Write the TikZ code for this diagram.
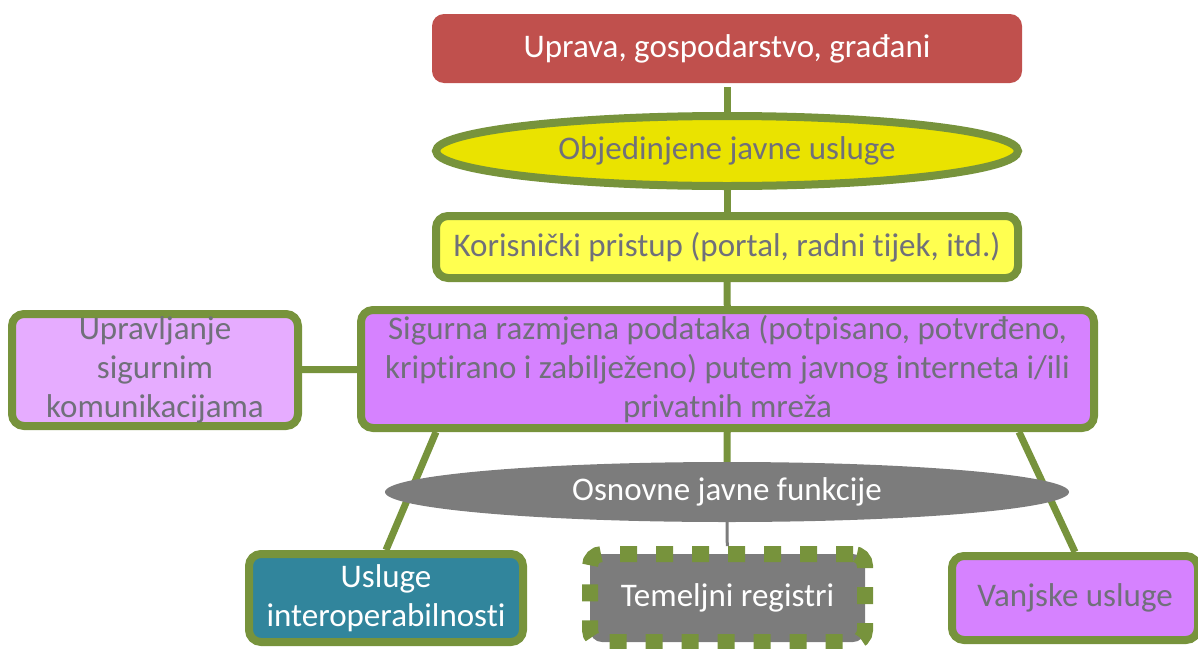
\documentclass[tikz,border=0pt]{standalone}
\usepackage{fontspec}
\setmainfont{Carlito}[Ligatures=NoCommon]
\usetikzlibrary{positioning, calc, backgrounds, shapes.geometric}
\definecolor{gline}{RGB}{119,147,60}
\definecolor{rfill}{RGB}{192,80,77}
\definecolor{yoval}{RGB}{234,227,0}
\definecolor{yfill}{RGB}{255,255,80}
\definecolor{pfill}{RGB}{214,130,255}
\definecolor{lpfill}{RGB}{230,172,255}
\definecolor{tfill}{RGB}{49,133,156}
\definecolor{gfill}{RGB}{124,124,124}
\definecolor{tgray}{RGB}{112,112,122}

\begin{document}
\begin{tikzpicture}[
  x=1pt, y=-1pt,
  font=\fontsize{33}{39}\selectfont,
  box/.style={draw=gline, line width=8pt, rounded corners=12pt, align=center,
              inner sep=0pt, text=tgray},
  oval/.style={ellipse, align=center, inner sep=0pt},
  conn/.style={gline, line width=7pt},
]
\useasboundingbox (0,0) rectangle (1198,648);

\node[box, draw=none, fill=rfill, text=white, minimum width=590pt, minimum height=69pt] (upr) at (727,48.5) {Uprava, gospodarstvo, građani};
\node[oval, draw=gline, line width=8pt, fill=yoval, text=tgray, minimum width=582pt, minimum height=70pt] (obj) at (727,151) {Objedinjene javne usluge};
\node[box, fill=yfill, minimum width=582pt, minimum height=62pt] (kor) at (727,247) {Korisnički pristup (portal, radni tijek, itd.)};
\node[box, fill=pfill, minimum width=733pt, minimum height=118pt] (sig) at (727.5,369) {Sigurna razmjena podataka (potpisano, potvrđeno,\\kriptirano i zabilježeno) putem javnog interneta i/ili\\privatnih mreža};
\node[box, fill=lpfill, minimum width=286pt, minimum height=112pt] (ups) at (155,370) {Upravljanje\\sigurnim\\komunikacijama};
\node[oval, fill=gfill, text=white, minimum width=684pt, minimum height=60pt] (osn) at (727,492) {Osnovne javne funkcije};
\node[box, fill=tfill, text=white, minimum width=274pt, minimum height=88pt] (usl) at (386,598) {Usluge\\interoperabilnosti};
\node[box, fill=gfill, text=white, line width=16pt, dash pattern=on 17pt off 19pt, minimum width=275pt, minimum height=88pt] (tem) at (727.5,598) {Temeljni registri};
\node[box, fill=pfill, minimum width=246pt, minimum height=84pt] (van) at (1075,598) {Vanjske usluge};

\begin{scope}[on background layer]
\draw[conn] (upr) -- (obj);
\draw[conn] (obj) -- (kor);
\draw[conn] (kor) -- (sig);
\draw[conn] (ups) -- (sig);
\draw[conn] (sig) -- (osn);
\draw[gfill, line width=3pt] (osn) -- (tem);
\draw[conn] ($(sig.south west)+(79,0)$) -- (usl.north);
\draw[conn] ($(sig.south east)+(-79,0)$) -- (van.north);
\end{scope}
\end{tikzpicture}
\end{document}
